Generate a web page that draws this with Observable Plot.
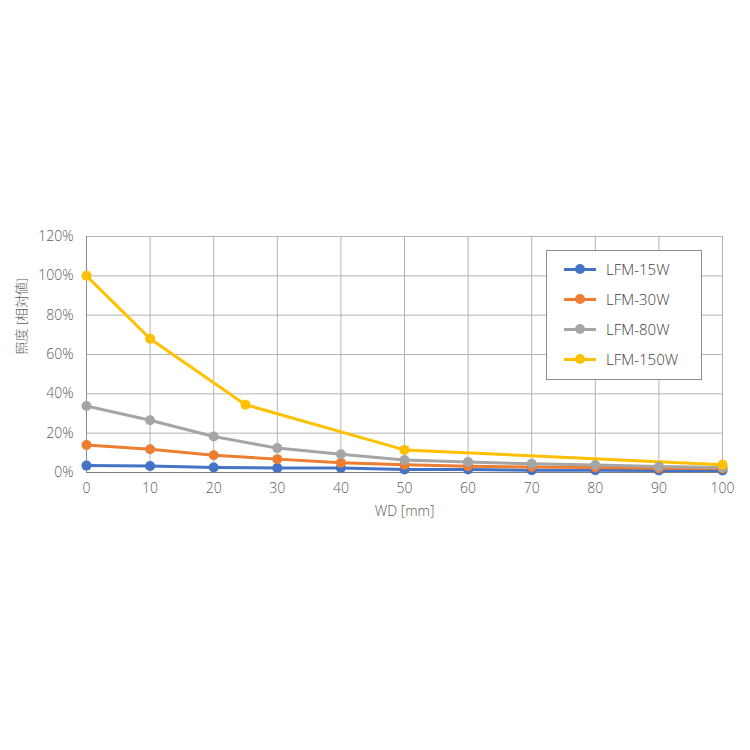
<!DOCTYPE html>
<html><head><meta charset="utf-8">
<script src="https://cdn.jsdelivr.net/npm/d3@7"></script>
<script src="https://cdn.jsdelivr.net/npm/@observablehq/plot@0.6"></script>
<style>
body{margin:0;background:#fff;font-family:"Open Sans","Noto Sans CJK JP",sans-serif}
#wrap{position:relative;width:750px;height:750px}
#legend{position:absolute;left:546px;top:250px;width:154px;height:128px;border:1px solid #8c8c8c;background:#fff;box-sizing:content-box}
.row{position:absolute;left:0;height:20px;width:154px}
.row .ln{position:absolute;left:17px;top:9px;width:32px;height:3px}
.row .dt{position:absolute;left:28px;top:5px;width:10px;height:10px;border-radius:50%}
.row .lb{position:absolute;left:59px;top:0;font-size:15px;line-height:20px;color:#404040;font-weight:300}
</style>
</head><body><div id="wrap"></div>
<script>
const wd = [0,10,20,30,40,50,60,70,80,90,100];
const lfm15 = [3.5,3.3,2.5,2.3,2.3,1.5,1.5,1.2,1.2,1.0,1.0];
const lfm30 = [14,11.8,8.8,6.8,5.0,4.0,3.2,2.8,2.5,2.2,2.0];
const lfm80 = [33.8,26.6,18.3,12.4,9.3,6.3,5.3,4.4,3.8,3.0,2.6];
const wd150 = [0,10,25,50,100];
const lfm150 = [100,68,34.5,11.5,4.0];
const seriesNames = ["LFM-15W","LFM-30W","LFM-80W","LFM-150W"];
const seriesColors = ["#4472C4","#ED7D31","#A5A5A5","#FFC000"];
const yTicks = [0,20,40,60,80,100,120];
const xTicks = [0,10,20,30,40,50,60,70,80,90,100];

const data = [];
[[wd,lfm15],[wd,lfm30],[wd,lfm80],[wd150,lfm150]].forEach(([xs,ys],i)=>{
  xs.forEach((x,j)=>data.push({s:seriesNames[i], x, y:ys[j]}));
});

const chart = Plot.plot({
  width:750, height:750,
  marginTop:236, marginBottom:278, marginLeft:86, marginRight:28,
  style:{fontFamily:'"Open Sans","Noto Sans CJK JP",sans-serif', background:"transparent"},
  x:{domain:[0,100]},
  y:{domain:[0,120]},
  color:{domain:seriesNames, range:seriesColors},
  marks:[
    Plot.gridX(xTicks,{stroke:"#b4b4b4", strokeOpacity:1, strokeWidth:1}),
    Plot.gridY(yTicks,{stroke:"#b4b4b4", strokeOpacity:1, strokeWidth:1}),
    Plot.ruleX([0],{stroke:"#8c8c8c", strokeWidth:1}),
    Plot.ruleY([0],{stroke:"#7f7f7f", strokeWidth:1}),
    Plot.axisX(xTicks,{tickSize:0, tickPadding:11, fontSize:14, fill:"#595959", label:null, fontWeight:300}),
    Plot.axisY(yTicks,{tickSize:0, tickPadding:13, fontSize:14, fill:"#595959", label:null, tickFormat:d=>d+"%", fontWeight:300}),
    Plot.line(data,{x:"x", y:"y", z:"s", stroke:"s", strokeWidth:3}),
    Plot.dot(data,{x:"x", y:"y", fill:"s", r:5}),
    Plot.text(["WD [mm]"],{frameAnchor:"bottom", dy:43, fontSize:14, fill:"#595959", fontWeight:300}),
    Plot.text(["照度 [相対値]"],{frameAnchor:"left", dx:-65, rotate:-90, fontSize:13, fill:"#595959", fontWeight:300})
  ]
});
const wrap = document.getElementById("wrap");
wrap.appendChild(chart);

const legend = document.createElement("div");
legend.id = "legend";
seriesNames.forEach((n,i)=>{
  const r = document.createElement("div");
  r.className = "row";
  r.style.top = (8 + i*30) + "px";
  r.innerHTML = `<div class="ln" style="background:${seriesColors[i]}"></div><div class="dt" style="background:${seriesColors[i]}"></div><div class="lb">${n}</div>`;
  legend.appendChild(r);
});
wrap.appendChild(legend);
</script>
</body></html>
